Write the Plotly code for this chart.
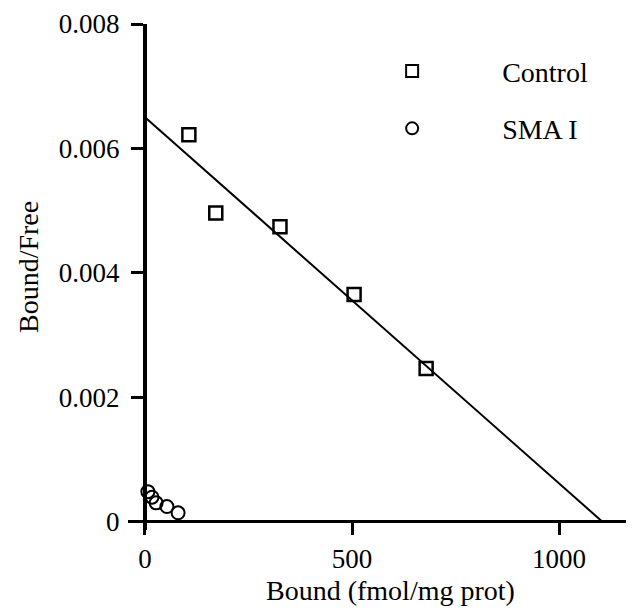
import plotly.graph_objects as go

# Data
control_bound = [106, 171, 326, 505, 679]
control_bf = [0.00622, 0.00496, 0.00474, 0.00365, 0.00246]

sma_bound = [7, 17, 27, 53, 80]
sma_bf = [0.00048, 0.00039, 0.00030, 0.00024, 0.00014]

fit_bound = [0, 1104]
fit_bf = [0.0065, 0.0]

y_tickvals = [0, 0.002, 0.004, 0.006, 0.008]
y_ticktext = ["0", "0.002", "0.004", "0.006", "0.008"]
x_tickvals = [0, 500, 1000]
x_ticktext = ["0", "500", "1000"]

x_title = "Bound (fmol/mg prot)"
y_title = "Bound/Free"

FONT = "Liberation Serif"
pad = "\u00a0" * 10

fig = go.Figure()
fig.add_trace(go.Scatter(
    x=fit_bound, y=fit_bf, mode="lines",
    line=dict(color="black", width=2), showlegend=False, hoverinfo="skip"))
fig.add_trace(go.Scatter(
    x=control_bound, y=control_bf, mode="markers", name=pad + "Control",
    legendgroup="c",
    marker=dict(symbol="square-open", size=13, color="black", line=dict(width=2.5, color="black"))))
fig.add_trace(go.Scatter(
    x=sma_bound, y=sma_bf, mode="markers", name=pad + "SMA I",
    legendgroup="s",
    marker=dict(symbol="circle-open", size=13, color="black", line=dict(width=2, color="black"))))

# page body adds an 8px offset, so the figure is 8px smaller than the window
W, H = 626, 601
ml, mr, mt, mb = 120, 0, 16, 79
xr = [-41, 1181]
yr = [-0.000137, 0.008]

xpos = (0 - yr[0]) / (yr[1] - yr[0])
ypos = (0 - xr[0]) / (xr[1] - xr[0])

pw = W - ml - mr
ph = H - mt - mb

fig.update_layout(
    width=W, height=H,
    margin=dict(l=ml, r=mr, t=mt, b=mb, autoexpand=False),
    paper_bgcolor="white", plot_bgcolor="white",
    font=dict(family=FONT, size=27, color="black"),
    showlegend=True,
    legend=dict(x=0.522, y=0.956, xanchor="left", yanchor="top",
                traceorder="grouped", tracegroupgap=18,
                itemsizing="constant",
                font=dict(family=FONT, size=28, color="black"),
                bgcolor="rgba(0,0,0,0)"),
    xaxis=dict(range=xr, tickvals=x_tickvals, ticktext=x_ticktext,
               showgrid=False, zeroline=False, showline=True,
               linecolor="black", linewidth=3, automargin=False,
               ticks="outside", ticklen=12, tickwidth=3, tickcolor="black",
               anchor="free", position=xpos,
               tickfont=dict(size=27)),
    yaxis=dict(range=yr, tickvals=y_tickvals, ticktext=y_ticktext,
               showgrid=False, zeroline=False, showline=True,
               linecolor="black", linewidth=4, automargin=False,
               ticks="outside", ticklen=12, tickwidth=3, tickcolor="black",
               anchor="free", position=ypos,
               ticklabelstandoff=6,
               tickfont=dict(size=27)),
    annotations=[
        dict(text=x_title, xref="paper", yref="paper",
             x=(382 - ml) / pw, y=-(582 - (mt + ph)) / ph,
             xanchor="center", yanchor="middle", showarrow=False,
             font=dict(family=FONT, size=28, color="black")),
        dict(text=y_title, xref="paper", yref="paper",
             x=-(ml - 20) / pw, y=(mt + ph - 259) / ph,
             xanchor="center", yanchor="middle", showarrow=False, textangle=-90,
             font=dict(family=FONT, size=28, color="black")),
    ],
)

fig.write_html("out.html")
